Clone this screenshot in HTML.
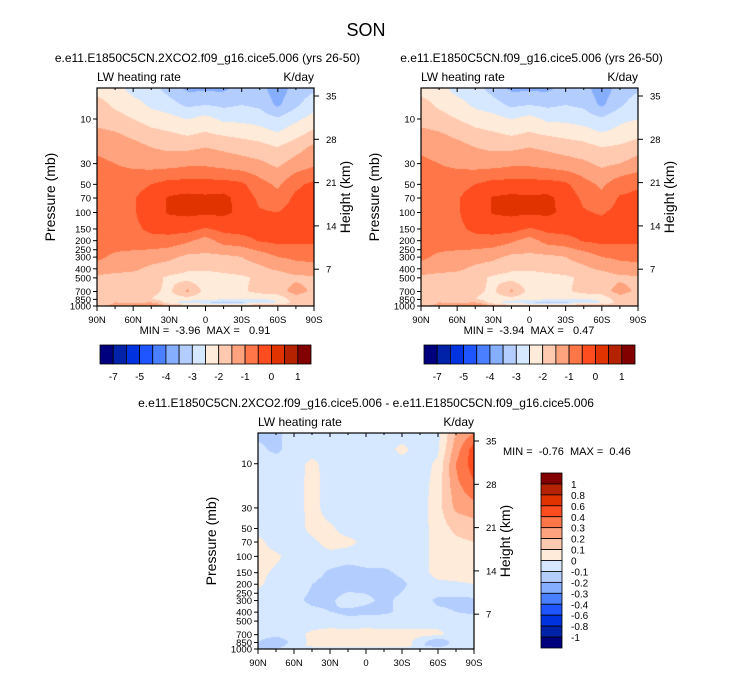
<!DOCTYPE html>
<html><head><meta charset="utf-8"><style>
body{margin:0;background:#fff;width:733px;height:673px;position:relative;overflow:hidden;font-family:"Liberation Sans",Arial,sans-serif}
canvas{position:absolute}
svg{position:absolute;left:0;top:0}
text{font-family:"Liberation Sans",Arial,sans-serif;fill:#000}
</style></head><body>
<canvas id="c1" width="217" height="218" style="left:97px;top:88px"></canvas>
<canvas id="c2" width="217" height="218" style="left:421px;top:88px"></canvas>
<canvas id="c3" width="216" height="216" style="left:258px;top:433px"></canvas>
<svg id="ov" width="733" height="673" xmlns="http://www.w3.org/2000/svg"></svg>
<script>
const lats=["90N","75N","60N","45N","30N","15N","0","15S","30S","45S","60S","75S","90S"];
const plevs=[4.66,7,10,15,20,30,50,70,100,150,200,300,400,500,700,850,925,1000];
const fieldA=[
[-2.2,-2.3,-2.7,-2.8,-3.2,-3.6,-3.6,-3.6,-3.3,-3.3,-3.8,-3.3,-3.1],
[-1.8,-2.1,-2.3,-2.6,-2.8,-3.1,-3.0,-3.1,-3.0,-3.1,-3.6,-3.1,-2.7],
[-1.7,-1.8,-2.0,-2.2,-2.3,-2.5,-2.3,-2.6,-2.6,-2.7,-2.9,-2.6,-2.3],
[-1.3,-1.4,-1.6,-1.8,-1.9,-2.0,-1.9,-2.0,-2.1,-2.2,-2.4,-2.1,-1.8],
[-1.1,-1.2,-1.3,-1.5,-1.6,-1.6,-1.5,-1.6,-1.7,-1.8,-2.0,-1.7,-1.4],
[-0.9,-1.0,-1.1,-1.2,-1.2,-1.1,-1.1,-1.2,-1.3,-1.4,-1.6,-1.3,-1.1],
[-0.8,-0.8,-0.7,-0.5,-0.3,-0.3,-0.3,-0.3,-0.4,-0.8,-1.1,-0.6,-0.4],
[-0.7,-0.7,-0.55,-0.2,0.05,0.15,0.1,0.15,-0.2,-0.6,-0.8,-0.4,-0.3],
[-0.7,-0.65,-0.55,-0.2,0.05,0.1,0.1,0.1,-0.1,-0.45,-0.5,-0.3,-0.25],
[-0.7,-0.7,-0.6,-0.4,-0.3,-0.3,-0.55,-0.35,-0.3,-0.3,-0.3,-0.25,-0.2],
[-0.8,-0.75,-0.7,-0.65,-0.7,-0.9,-1.2,-0.8,-0.7,-0.45,-0.35,-0.4,-0.4],
[-0.9,-1.1,-1.2,-1.3,-1.4,-1.6,-1.6,-1.6,-1.5,-1.3,-1.0,-0.9,-0.9],
[-1.2,-1.3,-1.4,-1.6,-1.7,-1.9,-1.9,-1.8,-1.7,-1.6,-1.4,-1.2,-1.1],
[-1.6,-1.7,-1.7,-1.8,-2.1,-2.2,-2.3,-2.2,-2.1,-1.9,-1.8,-1.6,-1.6],
[-1.7,-1.8,-1.8,-1.9,-2.1,-1.4,-2.2,-2.2,-2.1,-1.8,-1.7,-1.3,-1.6],
[-1.8,-2.0,-1.9,-2.0,-2.2,-2.2,-2.3,-2.4,-2.4,-2.5,-2.4,-1.7,-1.8],
[-1.8,-1.5,-1.6,-1.5,-2.3,-2.8,-3.0,-3.2,-3.1,-2.9,-2.5,-1.8,-1.9],
[-1.6,-1.4,-1.0,-0.8,-1.5,-1.8,-1.7,-1.7,-1.6,-1.5,-1.6,-1.9,-2.0]];
const fieldB=[
[-2.2,-2.3,-2.7,-2.8,-3.2,-3.6,-3.6,-3.6,-3.3,-3.3,-3.8,-3.3,-3.1],
[-1.8,-2.1,-2.3,-2.6,-2.8,-3.1,-3.0,-3.1,-3.0,-3.1,-3.6,-3.1,-2.7],
[-1.7,-1.8,-2.0,-2.2,-2.3,-2.5,-2.3,-2.6,-2.6,-2.7,-2.9,-2.6,-2.5],
[-1.3,-1.4,-1.6,-1.8,-1.9,-2.0,-1.9,-2.0,-2.1,-2.2,-2.4,-2.3,-2.1],
[-1.1,-1.2,-1.3,-1.5,-1.6,-1.6,-1.5,-1.6,-1.7,-1.8,-2.0,-1.9,-1.7],
[-0.9,-1.0,-1.1,-1.2,-1.2,-1.1,-1.1,-1.2,-1.3,-1.4,-1.6,-1.5,-1.3],
[-0.8,-0.8,-0.7,-0.5,-0.3,-0.3,-0.3,-0.3,-0.4,-0.8,-1.1,-0.7,-0.55],
[-0.7,-0.7,-0.55,-0.2,0.04,0.12,0.08,0.12,-0.2,-0.6,-0.85,-0.45,-0.4],
[-0.7,-0.65,-0.55,-0.2,0.04,0.1,0.08,0.1,-0.1,-0.45,-0.55,-0.35,-0.3],
[-0.7,-0.7,-0.6,-0.4,-0.3,-0.3,-0.55,-0.35,-0.3,-0.3,-0.3,-0.3,-0.25],
[-0.8,-0.75,-0.7,-0.65,-0.7,-0.9,-1.2,-0.8,-0.7,-0.45,-0.35,-0.4,-0.4],
[-0.9,-1.1,-1.2,-1.3,-1.4,-1.6,-1.6,-1.6,-1.5,-1.3,-1.0,-0.9,-0.9],
[-1.2,-1.3,-1.4,-1.6,-1.7,-1.9,-1.9,-1.8,-1.7,-1.6,-1.4,-1.2,-1.1],
[-1.6,-1.7,-1.7,-1.8,-2.1,-2.2,-2.3,-2.2,-2.1,-1.9,-1.8,-1.6,-1.6],
[-1.7,-1.8,-1.8,-1.9,-2.1,-1.4,-2.2,-2.2,-2.1,-1.8,-1.7,-1.3,-1.6],
[-1.8,-2.0,-1.9,-2.0,-2.2,-2.2,-2.3,-2.4,-2.4,-2.5,-2.4,-1.7,-1.8],
[-1.8,-1.5,-1.6,-1.5,-2.3,-2.8,-3.0,-3.2,-3.1,-2.9,-2.5,-1.8,-1.9],
[-1.6,-1.4,-1.0,-0.8,-1.5,-1.8,-1.7,-1.7,-1.6,-1.5,-1.6,-1.9,-2.0]];
const fieldD=[
[-0.12,-0.12,-0.05,-0.05,-0.05,-0.05,-0.05,-0.05,-0.05,-0.05,-0.03,0.2,0.3],
[-0.08,-0.12,-0.05,-0.05,-0.05,-0.05,-0.05,-0.05,0.03,-0.05,-0.02,0.25,0.45],
[-0.05,-0.05,-0.05,0.03,-0.05,-0.05,-0.05,-0.05,-0.05,-0.05,0.02,0.3,0.45],
[-0.05,-0.05,-0.05,0.04,-0.05,-0.05,-0.05,-0.05,-0.05,-0.05,0.04,0.28,0.4],
[-0.05,-0.05,-0.05,0.04,-0.05,-0.05,-0.05,-0.05,-0.05,-0.05,0.05,0.25,0.35],
[-0.05,-0.05,-0.05,0.04,-0.05,-0.05,-0.05,-0.05,-0.05,-0.05,0.06,0.22,0.25],
[-0.05,-0.05,-0.05,0.03,0.02,-0.05,-0.05,-0.05,-0.05,-0.05,0.05,0.12,0.15],
[0.03,-0.05,-0.05,-0.02,0.04,0.03,-0.03,-0.05,-0.05,-0.05,0.05,0.08,0.1],
[0.04,0.02,-0.05,-0.05,-0.03,-0.05,-0.05,-0.05,-0.05,-0.05,0.05,0.08,0.08],
[0.03,-0.02,-0.05,-0.05,-0.12,-0.15,-0.12,-0.12,-0.08,-0.03,0.03,0.06,0.06],
[0.02,-0.05,-0.05,-0.1,-0.15,-0.15,-0.13,-0.14,-0.12,-0.05,-0.02,-0.02,0.0],
[-0.05,-0.05,-0.08,-0.12,-0.12,-0.05,-0.08,-0.12,-0.08,-0.05,-0.12,-0.12,-0.12],
[-0.05,-0.05,-0.05,-0.08,-0.1,-0.12,-0.13,-0.12,-0.08,-0.05,-0.08,-0.1,-0.12],
[-0.05,-0.05,-0.05,-0.05,-0.05,-0.08,-0.05,-0.05,-0.05,-0.05,-0.05,-0.05,-0.05],
[-0.05,-0.05,-0.03,0.02,0.04,0.05,0.04,0.03,0.03,0.03,0.03,-0.05,-0.05],
[-0.1,-0.2,-0.05,0.02,0.03,0.03,0.05,0.08,0.06,-0.05,-0.2,-0.05,-0.05],
[-0.12,-0.15,-0.05,0.03,0.03,0.04,0.06,0.1,0.1,-0.08,-0.15,-0.05,-0.05],
[-0.15,-0.1,-0.05,-0.05,-0.05,-0.05,-0.05,-0.05,-0.05,-0.05,-0.05,-0.05,-0.05]];
const levelsAbs=[-7,-6,-5,-4.5,-4,-3.5,-3,-2.5,-2,-1.5,-1,-0.5,0,0.5,1];
const labelsAbs=["-7","-5","-4","-3","-2","-1","0","1"];
const levelsDiff=[-1,-0.8,-0.6,-0.4,-0.3,-0.2,-0.1,0,0.1,0.2,0.3,0.4,0.6,0.8,1];
const labelsDiff=["1","0.8","0.6","0.4","0.3","0.2","0.1","0","-0.1","-0.2","-0.3","-0.4","-0.6","-0.8","-1"];
const pTicks=[10,30,50,70,100,150,200,250,300,400,500,700,850,1000];
const hTicks=["35","28","21","14","7"];
const xTicks=["90N","60N","30N","0","30S","60S","90S"];
const colors=["#00007f","#0022a8","#0033e0","#1f55ff","#4a80ff","#86aeff","#b4cdff","#d6e8ff","#ffebd9","#ffcab0","#ffa37e","#ff7648","#ff4d1f","#e03300","#b52200","#820000"];

function hex(c){return [parseInt(c.substr(1,2),16),parseInt(c.substr(3,2),16),parseInt(c.substr(5,2),16)];}
function colIdx(v,lv){let k=0;for(const b of lv){if(v>=b)k++;}return k;}
function sample(f,fx,p){
  const lp=Math.log10(Math.max(plevs[0],Math.min(1000,p)));
  let j=0;while(j<plevs.length-2&&Math.log10(plevs[j+1])<lp)j++;
  const a=Math.log10(plevs[j]),b=Math.log10(plevs[j+1]);const t=Math.max(0,Math.min(1,(lp-a)/(b-a)));
  const xi=fx*(lats.length-1);const i=Math.min(lats.length-2,Math.floor(xi));const s=xi-i;
  const r0=f[j][i]*(1-s)+f[j][i+1]*s, r1=f[j+1][i]*(1-s)+f[j+1][i+1]*s;
  return r0*(1-t)+r1*t;
}
function render(id,f,lv){
  const c=document.getElementById(id),ctx=c.getContext('2d'),W=c.width,H=c.height;
  const img=ctx.createImageData(W,H);const rgb=colors.map(hex);
  const ppd=(H-1)/(3-Math.log10(plevs[0]));
  for(let y=0;y<H;y++){const p=Math.pow(10,3-(H-1-y)/ppd);
    for(let x=0;x<W;x++){const v=sample(f,x/(W-1),p);const cl=rgb[colIdx(v,lv)];const o=(y*W+x)*4;
      img.data[o]=cl[0];img.data[o+1]=cl[1];img.data[o+2]=cl[2];img.data[o+3]=255;}}
  ctx.putImageData(img,0,0);
}
render('c1',fieldA,levelsAbs);render('c2',fieldB,levelsAbs);render('c3',fieldD,levelsDiff);

const svg=document.getElementById('ov');const NS="http://www.w3.org/2000/svg";
function el(tag,at,txt){const e=document.createElementNS(NS,tag);for(const k in at)e.setAttribute(k,at[k]);if(txt!==undefined)e.textContent=txt;svg.appendChild(e);return e;}
function txt(x,y,s,size,anchor,name,rot){const t=el('text',{x:x,y:y,'font-size':size,'text-anchor':anchor||'start'},s);
  if(rot)t.setAttribute('transform','rotate(-90 '+x+' '+y+')');
  
  return t;}

function panel(x0,y0,w,h,pre,title,minmax,mmx,mmy,mmAnchor){
  const yOf=p=>y0+h-(3-Math.log10(p))*((h)/(3-Math.log10(plevs[0])));
  const r=el('rect',{x:x0,y:y0,width:w,height:h,fill:'none',stroke:'#000','stroke-width':1.2});
  
  
  if(title) txt(x0+w/2+2,y0-26,title,12,'middle',pre+'-title');
  txt(x0,y0-7,'LW heating rate',12,'start',pre+'-left-label');
  txt(x0+w,y0-7,'K/day',12,'end',pre+'-units-label');
  pTicks.forEach(p=>{const y=yOf(p);el('line',{x1:x0-4,y1:y,x2:x0,y2:y,stroke:'#000'});
    txt(x0-6,y+3.5,String(p),9.5,'end',pre+'-pressure-tick');});
  txt(x0-42,y0+h/2,'Pressure (mb)',14,'middle',pre+'-y-axis-title',true);
  hTicks.forEach((s,i)=>{const y=y0+8+i*43.3;el('line',{x1:x0+w,y1:y,x2:x0+w+5,y2:y,stroke:'#000'});
    txt(x0+w+12,y+3.5,s,9.5,'start',pre+'-height-tick');});
  txt(x0+w+36,y0+h/2,'Height (km)',14,'middle',pre+'-right-axis-title',true);
  for(let k=0;k<=12;k++){const x=x0+k*w/12;const L=k%2==0?5:3;
    el('line',{x1:x,y1:y0+h,x2:x,y2:y0+h+L,stroke:'#000'});el('line',{x1:x,y1:y0,x2:x,y2:y0+L-1,stroke:'#000'});}
  xTicks.forEach((s,i)=>txt(x0+i*w/6,y0+h+17,s,9.5,'middle',pre+'-lat-tick'));
  const m=txt(mmx,mmy,minmax,11,mmAnchor,pre+'-min-max');m.setAttribute('xml:space','preserve');m.style.whiteSpace='pre';
}
txt(366,36,'SON',18,'middle','figure-title');
panel(97,88,217,218,'top-left','e.e11.E1850C5CN.2XCO2.f09_g16.cice5.006 (yrs 26-50)','MIN =  -3.96  MAX =   0.91',205,334,'middle');
panel(421,88,217,218,'top-right','e.e11.E1850C5CN.f09_g16.cice5.006 (yrs 26-50)','MIN =  -3.94  MAX =   0.47',529,334,'middle');
txt(366,407,'e.e11.E1850C5CN.2XCO2.f09_g16.cice5.006 - e.e11.E1850C5CN.f09_g16.cice5.006',12,'middle','bottom-title');
panel(258,433,216,216,'bottom',null,'MIN =  -0.76  MAX =  0.46',503,455,'start');

function hbar(x0,y0,w,h,pre){const bw=w/colors.length;
  colors.forEach((c,i)=>{const r=el('rect',{x:x0+i*bw,y:y0,width:bw,height:h,fill:c,stroke:'#000','stroke-width':0.8});
    
    });
  labelsAbs.forEach((s,i)=>txt(x0+(1+2*i)*bw,y0+h+16,s,10,'middle',pre+'-colorbar-label'));}
hbar(100,345,211,19,'top-left');hbar(424,345,211,19,'top-right');
(function(){const x0=541,y0=473,w=21,h=175,bh=h/colors.length;
  colors.slice().reverse().forEach((c,i)=>{const r=el('rect',{x:x0,y:y0+i*bh,width:w,height:bh,fill:c,stroke:'#000','stroke-width':0.8});
    
    });
  labelsDiff.forEach((s,i)=>txt(x0+w+9,y0+(i+1)*bh+4,s,10,'start','diff-colorbar-label'));})();
</script>
</body></html>
